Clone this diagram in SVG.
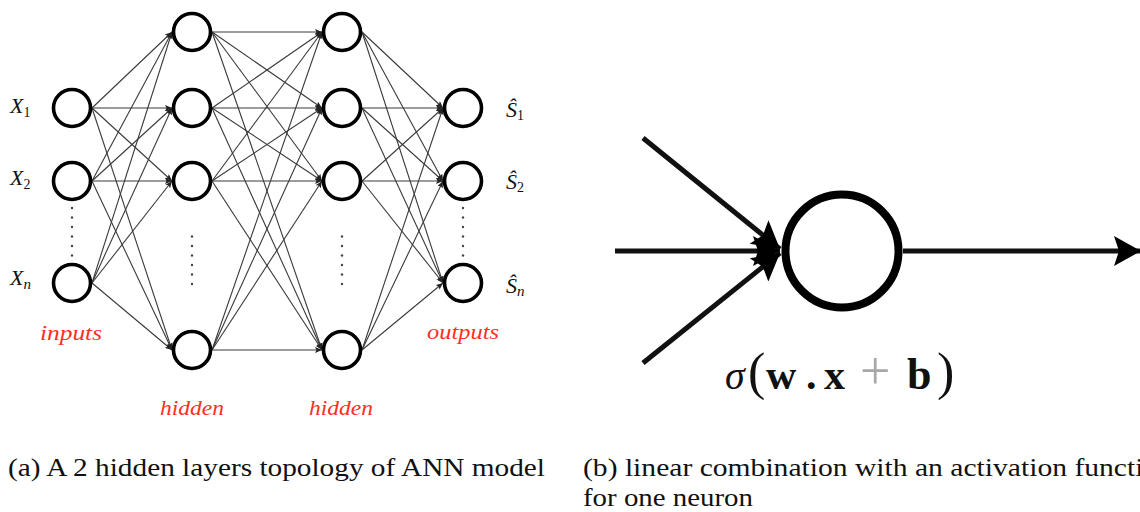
<svg xmlns="http://www.w3.org/2000/svg" width="1140" height="512" viewBox="0 0 1140 512">
<defs>
<style>
.node{fill:#fff;stroke:#000;stroke-width:3.6}
.edge{stroke:#3a3a3a;stroke-width:1.1;fill:none;marker-end:url(#sa)}
.big{stroke:#111;stroke-width:5;fill:none;marker-end:url(#ba)}
.dot{fill:#444}
.lbl{font-family:"Liberation Serif",serif;font-style:italic;font-size:22px;fill:#111}
.sub{font-family:"Liberation Serif",serif;font-style:normal;font-size:14px;fill:#111}
.subi{font-family:"Liberation Serif",serif;font-style:italic;font-size:15px;fill:#111}
.red{font-family:"Liberation Serif",serif;font-style:italic;font-size:21px;fill:#ff2e1f;text-anchor:middle}
.cap{font-family:"Liberation Serif",serif;font-size:25px;fill:#111}
.math{font-family:"Liberation Serif",serif;font-size:44px;fill:#111}
</style>
<marker id="sa" markerUnits="userSpaceOnUse" markerWidth="7" markerHeight="6" refX="7" refY="3" orient="auto">
<path d="M0,0 L7,3 L0,6 L1.5,3 z" fill="#222"/>
</marker>
<marker id="ba" markerUnits="userSpaceOnUse" markerWidth="28" markerHeight="30" refX="27" refY="15" orient="auto">
<path d="M0,0 L27,15 L0,30 L5,15 z" fill="#000"/>
</marker>
</defs>
<rect width="1140" height="512" fill="#fff"/>

<g id="connectors">
<line class="edge" x1="92" y1="108" x2="172" y2="32"/>
<line class="edge" x1="92" y1="108" x2="172" y2="108"/>
<line class="edge" x1="92" y1="108" x2="172" y2="181"/>
<line class="edge" x1="92" y1="108" x2="172" y2="350"/>
<line class="edge" x1="92" y1="181" x2="172" y2="32"/>
<line class="edge" x1="92" y1="181" x2="172" y2="108"/>
<line class="edge" x1="92" y1="181" x2="172" y2="181"/>
<line class="edge" x1="92" y1="181" x2="172" y2="350"/>
<line class="edge" x1="92" y1="283" x2="172" y2="32"/>
<line class="edge" x1="92" y1="283" x2="172" y2="108"/>
<line class="edge" x1="92" y1="283" x2="172" y2="181"/>
<line class="edge" x1="92" y1="283" x2="172" y2="350"/>
<line class="edge" x1="212" y1="32" x2="322" y2="32"/>
<line class="edge" x1="212" y1="32" x2="322" y2="108"/>
<line class="edge" x1="212" y1="32" x2="322" y2="181"/>
<line class="edge" x1="212" y1="32" x2="322" y2="350"/>
<line class="edge" x1="212" y1="108" x2="322" y2="32"/>
<line class="edge" x1="212" y1="108" x2="322" y2="108"/>
<line class="edge" x1="212" y1="108" x2="322" y2="181"/>
<line class="edge" x1="212" y1="108" x2="322" y2="350"/>
<line class="edge" x1="212" y1="181" x2="322" y2="32"/>
<line class="edge" x1="212" y1="181" x2="322" y2="108"/>
<line class="edge" x1="212" y1="181" x2="322" y2="181"/>
<line class="edge" x1="212" y1="181" x2="322" y2="350"/>
<line class="edge" x1="212" y1="350" x2="322" y2="32"/>
<line class="edge" x1="212" y1="350" x2="322" y2="108"/>
<line class="edge" x1="212" y1="350" x2="322" y2="181"/>
<line class="edge" x1="212" y1="350" x2="322" y2="350"/>
<line class="edge" x1="362" y1="32" x2="443" y2="108"/>
<line class="edge" x1="362" y1="32" x2="443" y2="181"/>
<line class="edge" x1="362" y1="32" x2="443" y2="283"/>
<line class="edge" x1="362" y1="108" x2="443" y2="108"/>
<line class="edge" x1="362" y1="108" x2="443" y2="181"/>
<line class="edge" x1="362" y1="108" x2="443" y2="283"/>
<line class="edge" x1="362" y1="181" x2="443" y2="108"/>
<line class="edge" x1="362" y1="181" x2="443" y2="181"/>
<line class="edge" x1="362" y1="181" x2="443" y2="283"/>
<line class="edge" x1="362" y1="350" x2="443" y2="108"/>
<line class="edge" x1="362" y1="350" x2="443" y2="181"/>
<line class="edge" x1="362" y1="350" x2="443" y2="283"/>
<line class="big" x1="643" y1="138" x2="780" y2="249"/>
<line class="big" x1="615" y1="251" x2="780" y2="251"/>
<line class="big" x1="643" y1="363" x2="780" y2="253"/>
<line class="big" x1="903" y1="251" x2="1141" y2="251"/>
</g>

<g id="in1"><circle class="node" cx="72" cy="108" r="18.5"/>
<text class="lbl" x="10" y="113">X<tspan class="sub" dy="4">1</tspan></text></g>
<g id="in2"><circle class="node" cx="72" cy="181" r="18.5"/>
<text class="lbl" x="10" y="185">X<tspan class="sub" dy="4">2</tspan></text></g>
<g id="inn"><circle class="node" cx="72" cy="283" r="18.5"/>
<text class="lbl" x="10" y="285">X<tspan class="subi" dy="4">n</tspan></text></g>
<g id="indots">
<circle class="dot" cx="72" cy="208" r="1.2"/><circle class="dot" cx="72" cy="217.5" r="1.2"/><circle class="dot" cx="72" cy="227" r="1.2"/><circle class="dot" cx="72" cy="236.5" r="1.2"/><circle class="dot" cx="72" cy="246" r="1.2"/><circle class="dot" cx="72" cy="255.5" r="1.2"/>
</g>

<g id="h1a"><circle class="node" cx="192" cy="32" r="18.5"/></g>
<g id="h1b"><circle class="node" cx="192" cy="108" r="18.5"/></g>
<g id="h1c"><circle class="node" cx="192" cy="181" r="18.5"/></g>
<g id="h1d"><circle class="node" cx="192" cy="350" r="18.5"/></g>
<g id="h1dots">
<circle class="dot" cx="192" cy="236.5" r="1.2"/><circle class="dot" cx="192" cy="246" r="1.2"/><circle class="dot" cx="192" cy="255.5" r="1.2"/><circle class="dot" cx="192" cy="265" r="1.2"/><circle class="dot" cx="192" cy="274.5" r="1.2"/><circle class="dot" cx="192" cy="284" r="1.2"/>
</g>

<g id="h2a"><circle class="node" cx="342" cy="32" r="18.5"/></g>
<g id="h2b"><circle class="node" cx="342" cy="108" r="18.5"/></g>
<g id="h2c"><circle class="node" cx="342" cy="181" r="18.5"/></g>
<g id="h2d"><circle class="node" cx="342" cy="350" r="18.5"/></g>
<g id="h2dots">
<circle class="dot" cx="342" cy="236.5" r="1.2"/><circle class="dot" cx="342" cy="246" r="1.2"/><circle class="dot" cx="342" cy="255.5" r="1.2"/><circle class="dot" cx="342" cy="265" r="1.2"/><circle class="dot" cx="342" cy="274.5" r="1.2"/><circle class="dot" cx="342" cy="284" r="1.2"/>
</g>

<g id="out1"><circle class="node" cx="463" cy="108" r="18.5"/>
<text class="lbl" x="506" y="117">Ŝ<tspan class="sub" dy="3">1</tspan></text></g>
<g id="out2"><circle class="node" cx="463" cy="181" r="18.5"/>
<text class="lbl" x="506" y="189">Ŝ<tspan class="sub" dy="3">2</tspan></text></g>
<g id="outn"><circle class="node" cx="463" cy="283" r="18.5"/>
<text class="lbl" x="506" y="293">Ŝ<tspan class="subi" dy="3">n</tspan></text></g>
<g id="outdots">
<circle class="dot" cx="463" cy="208" r="1.2"/><circle class="dot" cx="463" cy="217.5" r="1.2"/><circle class="dot" cx="463" cy="227" r="1.2"/><circle class="dot" cx="463" cy="236.5" r="1.2"/><circle class="dot" cx="463" cy="246" r="1.2"/><circle class="dot" cx="463" cy="255.5" r="1.2"/>
</g>

<g id="layer-labels">
<text class="red" x="71" y="340" textLength="62" lengthAdjust="spacingAndGlyphs">inputs</text>
<text class="red" x="192" y="415" textLength="64" lengthAdjust="spacingAndGlyphs">hidden</text>
<text class="red" x="341" y="415" textLength="64" lengthAdjust="spacingAndGlyphs">hidden</text>
<text class="red" x="463" y="339" textLength="72" lengthAdjust="spacingAndGlyphs">outputs</text>
</g>

<g id="neuron">
<circle cx="842" cy="251" r="56.5" fill="#fff" stroke="#000" stroke-width="8"/>
</g>

<g id="formula">
<text class="math" y="389"><tspan x="725" font-style="italic" font-size="40">σ</tspan><tspan x="748" font-size="52">(</tspan><tspan x="766" font-weight="bold" font-size="42">w</tspan><tspan x="806" font-weight="bold" font-size="42">.</tspan><tspan x="824" font-weight="bold" font-size="42">x</tspan><tspan x="860" fill="#a8a8a8" font-size="54">+</tspan><tspan x="907" font-weight="bold">b</tspan><tspan x="937" font-size="52">)</tspan></text>
</g>

<g id="captions">
<text class="cap" x="8" y="476" textLength="537" lengthAdjust="spacingAndGlyphs">(a) A 2 hidden layers topology of ANN model</text>
<text class="cap" x="583" y="476" textLength="590" lengthAdjust="spacingAndGlyphs">(b) linear combination with an activation function</text>
<text class="cap" x="583" y="506" textLength="170" lengthAdjust="spacingAndGlyphs">for one neuron</text>
</g>
</svg>
